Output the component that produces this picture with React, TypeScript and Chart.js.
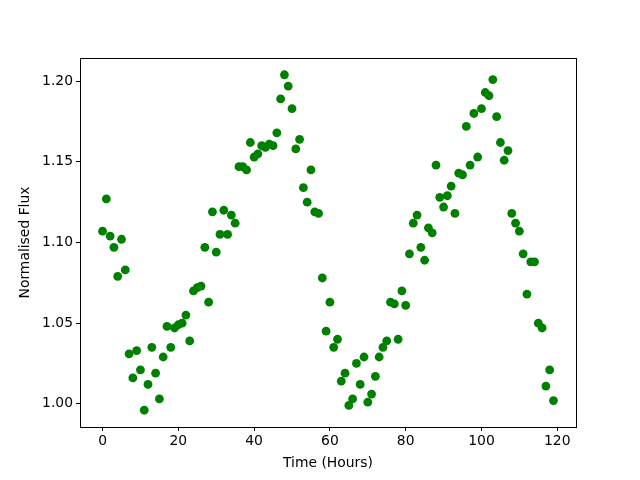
import React, { useEffect, useRef } from "react";
import { Chart, registerables } from "chart.js";

Chart.register(...registerables);

const hours: number[] = Array.from({ length: 120 }, (_, i) => i);

const flux: number[] = [
  1.107, 1.127, 1.104, 1.097, 1.079, 1.102, 1.083, 1.031, 1.016, 1.033,
  1.021, 0.996, 1.012, 1.035, 1.019, 1.003, 1.029, 1.048, 1.035, 1.047,
  1.049, 1.050, 1.055, 1.039, 1.070, 1.072, 1.073, 1.097, 1.063, 1.119,
  1.094, 1.105, 1.120, 1.105, 1.117, 1.112, 1.147, 1.147, 1.145, 1.162,
  1.153, 1.155, 1.160, 1.159, 1.161, 1.160, 1.168, 1.189, 1.204, 1.197,
  1.183, 1.158, 1.164, 1.134, 1.125, 1.145, 1.119, 1.118, 1.078, 1.045,
  1.063, 1.035, 1.040, 1.014, 1.019, 0.999, 1.003, 1.025, 1.012, 1.029,
  1.001, 1.006, 1.017, 1.029, 1.035, 1.039, 1.063, 1.062, 1.040, 1.070,
  1.061, 1.093, 1.112, 1.117, 1.097, 1.089, 1.109, 1.106, 1.148, 1.128,
  1.122, 1.129, 1.135, 1.118, 1.143, 1.142, 1.172, 1.148, 1.180, 1.153,
  1.183, 1.193, 1.191, 1.201, 1.178, 1.162, 1.151, 1.157, 1.118, 1.112,
  1.107, 1.093, 1.068, 1.088, 1.088, 1.050, 1.047, 1.011, 1.021, 1.002,
];

const xTicks: number[] = [0, 20, 40, 60, 80, 100, 120];
const yTicks: number[] = [1.0, 1.05, 1.1, 1.15, 1.2];

const frame = {
  id: "frame",
  afterDraw(chart: any) {
    const { ctx, chartArea } = chart;
    ctx.save();
    ctx.strokeStyle = "#000";
    ctx.lineWidth = 1;
    ctx.strokeRect(
      Math.round(chartArea.left) + 0.5,
      Math.round(chartArea.top) + 0.5,
      Math.round(chartArea.right - chartArea.left),
      Math.round(chartArea.bottom - chartArea.top)
    );
    ctx.restore();
  },
};

export default function App() {
  const ref = useRef<HTMLCanvasElement | null>(null);
  useEffect(() => {
    if (!ref.current) return;
    const font = { family: "'DejaVu Sans', sans-serif", size: 13.9 };
    const chart = new Chart(ref.current, {
      type: "scatter",
      data: {
        datasets: [
          {
            data: hours.map((h, i) => ({ x: h, y: flux[i] })),
            backgroundColor: "#008000",
            borderWidth: 0,
            pointRadius: 4.4,
            pointHoverRadius: 4.4,
          },
        ],
      },
      options: {
        responsive: false,
        animation: false,
        events: [],
        layout: { padding: { left: 0, top: 58, right: 64, bottom: 0 } },
        plugins: { legend: { display: false }, tooltip: { enabled: false } },
        scales: {
          x: {
            type: "linear",
            min: -5.95,
            max: 124.95,
            afterFit: (s: any) => {
              s.height = 53;
            },
            afterBuildTicks: (s: any) => {
              s.ticks = xTicks.map((v) => ({ value: v }));
            },
            grid: {
              drawOnChartArea: false,
              drawTicks: true,
              tickLength: 4,
              color: "#000",
            },
            border: { display: true, color: "#000" },
            ticks: {
              color: "#000",
              font,
              padding: 2,
              maxRotation: 0,
              callback: (v: any) => String(v),
            },
            title: {
              display: true,
              text: "Time (Hours)",
              color: "#000",
              font,
              padding: { top: 0, bottom: 8 },
            },
          },
          y: {
            type: "linear",
            min: 0.9856,
            max: 1.2144,
            afterFit: (s: any) => {
              s.width = 80;
            },
            afterBuildTicks: (s: any) => {
              s.ticks = yTicks.map((v) => ({ value: v }));
            },
            grid: {
              drawOnChartArea: false,
              drawTicks: true,
              tickLength: 4,
              color: "#000",
            },
            border: { display: true, color: "#000" },
            ticks: {
              color: "#000",
              font,
              padding: 3,
              callback: (v: any) => Number(v).toFixed(2),
            },
            title: {
              display: true,
              text: "Normalised Flux",
              color: "#000",
              font,
              padding: { top: 17, bottom: 0 },
            },
          },
        },
      },
      plugins: [frame],
    });
    return () => chart.destroy();
  }, []);
  return (
    <div style={{ position: "fixed", left: 0, top: 0, width: 640, height: 480, background: "#fff" }}>
      <canvas ref={ref} width={640} height={480} />
    </div>
  );
}
